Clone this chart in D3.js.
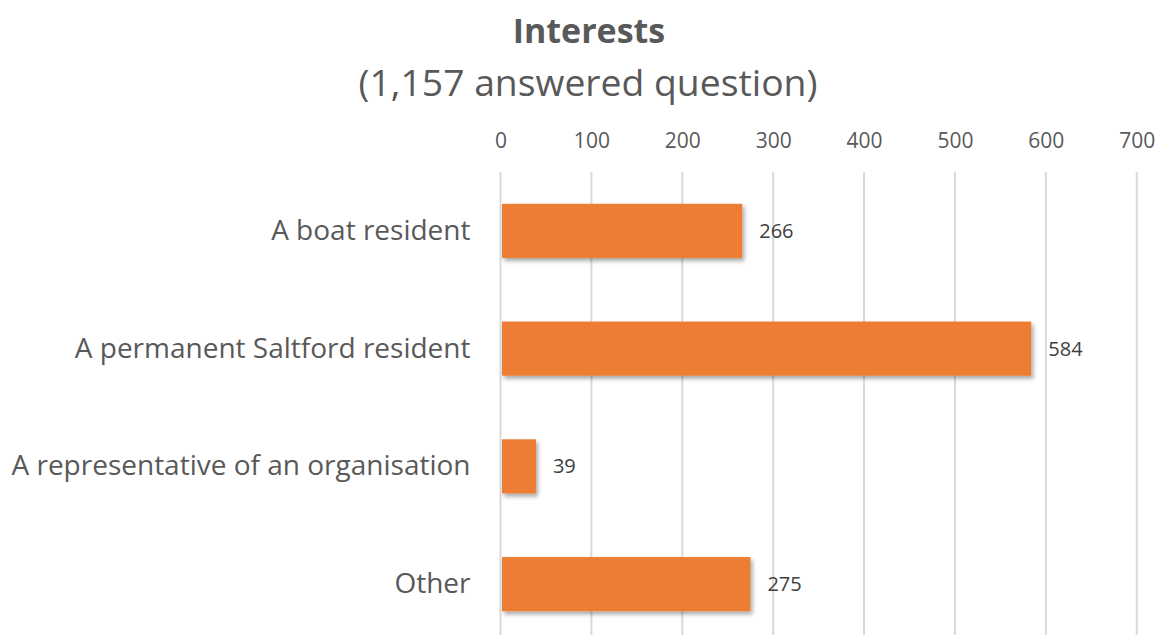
<!DOCTYPE html>
<html>
<head>
<meta charset="utf-8">
<script src="https://cdn.jsdelivr.net/npm/d3@7"></script>
<style>
  html, body { margin: 0; padding: 0; background: #fff; }
  svg { display: block; font-family: "Open Sans", "Noto Sans", sans-serif; }
</style>
</head>
<body>
<svg id="chart" width="1158" height="635"></svg>
<script>
// Survey responses: who answered
const categories = [
  "A boat resident",
  "A permanent Saltford resident",
  "A representative of an organisation",
  "Other"
];
const counts = [266, 584, 39, 275];
const tickValues = [0, 100, 200, 300, 400, 500, 600, 700];
const titleText = "Interests";
const subtitleText = "(1,157 answered question)";

const width = 1158, height = 635;
const plot = { left: 500.5, right: 1136.7, top: 172, bottom: 643 };

const svg = d3.select("#chart");

// soft drop shadow under the bars
const defs = svg.append("defs");
const f = defs.append("filter").attr("id", "barShadow")
  .attr("x", "-10%").attr("y", "-20%").attr("width", "130%").attr("height", "160%");
f.append("feDropShadow").attr("dx", 2).attr("dy", 3).attr("stdDeviation", 2)
  .attr("flood-color", "#000").attr("flood-opacity", 0.35);

const x = d3.scaleLinear().domain([0, 700]).range([plot.left, plot.right]);
const y = d3.scaleBand().domain(categories).range([plot.top, plot.bottom])
  .paddingInner(0.54).paddingOuter(0.27);

// title
svg.append("text")
  .attr("x", 589).attr("y", 43)
  .attr("text-anchor", "middle")
  .attr("font-weight", "bold").attr("font-size", 34)
  .attr("fill", "#595959")
  .text(titleText);
svg.append("text")
  .attr("x", 588).attr("y", 96)
  .attr("text-anchor", "middle")
  .attr("font-size", 37.3)
  .attr("fill", "#595959")
  .text(subtitleText);

// vertical gridlines
svg.append("g").selectAll("line").data(tickValues).join("line")
  .attr("x1", d => x(d)).attr("x2", d => x(d))
  .attr("y1", plot.top).attr("y2", height)
  .attr("stroke", "#d9d9d9").attr("stroke-width", 2);

// top value axis labels
const xAxis = d3.axisTop(x).tickValues(tickValues).tickSize(0).tickPadding(0);
const gx = svg.append("g").attr("transform", `translate(0,148)`).call(xAxis);
gx.select(".domain").remove();
gx.selectAll("text")
  .attr("font-family", "'Open Sans', sans-serif")
  .attr("font-size", 21).attr("fill", "#595959").attr("dy", 0);

// category axis labels
const yAxis = d3.axisLeft(y).tickSize(0).tickPadding(30);
const gy = svg.append("g").attr("transform", `translate(${plot.left},0)`).call(yAxis);
gy.select(".domain").remove();
gy.selectAll("text")
  .attr("font-family", "'Open Sans', sans-serif")
  .attr("font-size", 28).attr("fill", "#595959");

const rows = categories.map((c, i) => ({ c, v: counts[i] }));

// bars
svg.append("g").selectAll("rect").data(rows).join("rect")
  .attr("x", x(0) + 1.5)
  .attr("y", d => y(d.c))
  .attr("width", d => x(d.v) - x(0) - 1.5)
  .attr("height", y.bandwidth())
  .attr("fill", "#ED7D31")
  .attr("filter", "url(#barShadow)");

// value labels
svg.append("g").selectAll("text").data(rows).join("text")
  .attr("x", d => x(d.v) + 17)
  .attr("y", d => y(d.c) + y.bandwidth() / 2)
  .attr("dy", "0.35em")
  .attr("font-size", 20).attr("fill", "#404040")
  .text(d => d.v);
</script>
</body>
</html>
